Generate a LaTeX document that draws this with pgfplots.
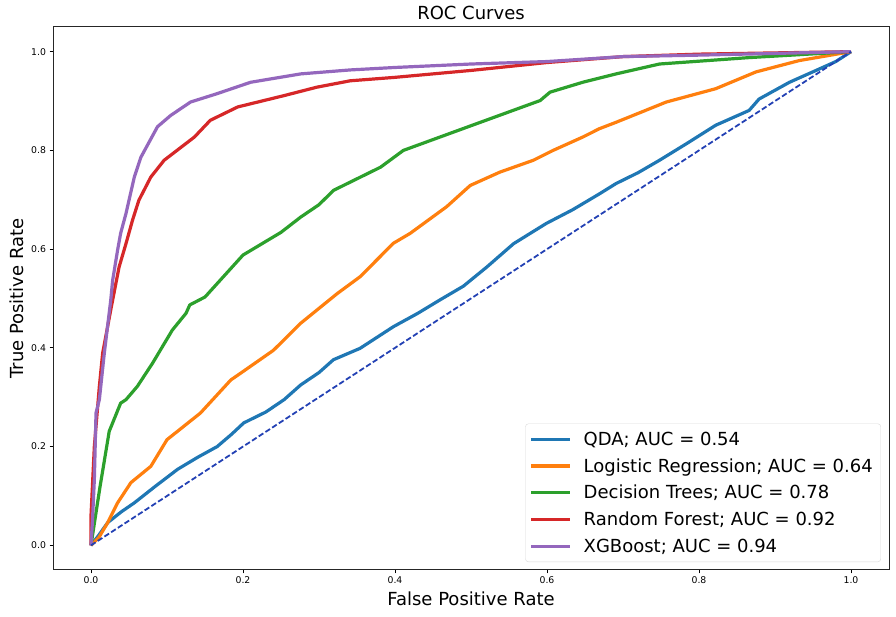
\documentclass[border=0pt]{standalone}
\usepackage{pgfplots}
\pgfplotsset{compat=1.18}
\usepackage{fontspec}
\setmainfont{DejaVu Sans}
\definecolor{tblue}{HTML}{1F77B4}
\definecolor{torange}{HTML}{FF7F0E}
\definecolor{tgreen}{HTML}{2CA02C}
\definecolor{tred}{HTML}{D62728}
\definecolor{tpurple}{HTML}{9467BD}
\definecolor{diagblue}{RGB}{35,65,180}
\begin{document}
\begin{tikzpicture}
\begin{axis}[
  name=ax,
  scale only axis,
  width=836pt, height=543pt,
  xmin=-0.05, xmax=1.05, ymin=-0.05, ymax=1.05,
  xtick={0,0.2,0.4,0.6,0.8,1.0},
  ytick={0,0.2,0.4,0.6,0.8,1.0},
  xticklabel style={/pgf/number format/.cd,fixed,fixed zerofill,precision=1},
  yticklabel style={/pgf/number format/.cd,fixed,fixed zerofill,precision=1},
  /pgf/number format/assume math mode=true,
  ticklabel style={font=\fontsize{9.3}{11}\selectfont},
  tick align=outside, tick pos=left,
  major tick length=3.5pt,
  every tick/.style={black, line width=0.8pt},
  axis line style={line width=1pt, black!85},
  title={ROC Curves},
  title style={at={(axis description cs:0.5,1.0129)}, anchor=base, yshift=-6pt, font=\fontsize{18}{21}\selectfont},
  xlabel={False Positive Rate},
  xlabel style={at={(axis description cs:0.5,-0.0663)}, anchor=base, font=\fontsize{18}{21}\selectfont},
  ylabel={True Positive Rate},
  ylabel style={at={(axis description cs:-0.0347,0.5)}, anchor=base, rotate=0, font=\fontsize{18}{21}\selectfont},
  legend style={at={(0.9904,0.0147)}, anchor=south east, draw=black!15, rounded corners=3pt,
    font=\fontsize{18}{21}\selectfont, inner xsep=4pt, inner ysep=6pt, row sep=7.7pt,
    /tikz/every odd column/.append style={column sep=8pt},
    nodes={inner xsep=4pt}},
  legend cell align=left,
  legend image code/.code={\draw[#1] (0pt,0pt) -- (39pt,0pt);},
]
\addplot[tblue, line width=3.2pt, line join=round] coordinates {
(0,0) (0.01,0.02) (0.022,0.046) (0.04,0.068) (0.057,0.086) (0.085,0.12) (0.114,0.154) (0.14,0.178) (0.166,0.2)
(0.185,0.225) (0.201,0.248) (0.23,0.27) (0.254,0.295) (0.276,0.325) (0.3,0.35) (0.319,0.376) (0.354,0.399)
(0.398,0.443) (0.43,0.47) (0.459,0.497) (0.49,0.525) (0.521,0.564) (0.556,0.611) (0.599,0.652) (0.634,0.68)
(0.669,0.712) (0.691,0.733) (0.72,0.755) (0.748,0.78) (0.785,0.815) (0.822,0.851) (0.866,0.881) (0.879,0.904)
(0.919,0.938) (0.954,0.962) (0.98,0.98) (1,1)};
\addlegendentry{QDA; AUC = 0.54}
\addplot[torange, line width=3.2pt, line join=round] coordinates {
(0,0) (0.01,0.015) (0.022,0.046) (0.035,0.086) (0.0525,0.127) (0.0787,0.16) (0.1,0.214) (0.122,0.241)
(0.144,0.268) (0.184,0.335) (0.2,0.352) (0.24,0.395) (0.276,0.45) (0.3,0.48) (0.324,0.51) (0.354,0.544)
(0.398,0.612) (0.42,0.632) (0.468,0.686) (0.499,0.729) (0.538,0.756) (0.582,0.78) (0.608,0.8) (0.647,0.827)
(0.669,0.844) (0.691,0.857) (0.757,0.898) (0.822,0.925) (0.875,0.959) (0.932,0.982) (1,1)};
\addlegendentry{Logistic Regression; AUC = 0.64}
\addplot[tgreen, line width=3.2pt, line join=round] coordinates {
(0,0) (0.012,0.12) (0.024,0.231) (0.039,0.288) (0.046,0.295) (0.061,0.322) (0.081,0.369) (0.107,0.436)
(0.125,0.47) (0.13,0.487) (0.15,0.503) (0.2,0.588) (0.25,0.634) (0.276,0.665) (0.3,0.69) (0.319,0.719)
(0.381,0.766) (0.411,0.8) (0.5,0.85) (0.591,0.901) (0.604,0.918) (0.647,0.938) (0.691,0.955) (0.748,0.975)
(0.866,0.988) (1,1)};
\addlegendentry{Decision Trees; AUC = 0.78}
\addplot[tred, line width=3.2pt, line join=round] coordinates {
(0,0) (0,0.06) (0.0044,0.2) (0.011,0.322) (0.0153,0.389) (0.026,0.477) (0.0328,0.531) (0.037,0.564)
(0.046,0.611) (0.0547,0.659) (0.063,0.699) (0.0787,0.746) (0.0962,0.78) (0.136,0.827) (0.157,0.861)
(0.193,0.888) (0.254,0.911) (0.297,0.928) (0.341,0.941) (0.4,0.948) (0.5,0.962) (0.6,0.978) (0.7,0.99)
(0.8,0.995) (1,1)};
\addlegendentry{Random Forest; AUC = 0.92}
\addplot[tpurple, line width=3.2pt, line join=round] coordinates {
(0,0) (0.002,0.052) (0.0044,0.133) (0.0066,0.268) (0.011,0.295) (0.0175,0.389) (0.026,0.497) (0.0285,0.537)
(0.035,0.598) (0.039,0.632) (0.046,0.672) (0.05,0.699) (0.057,0.746) (0.0656,0.786) (0.0875,0.848)
(0.105,0.871) (0.131,0.898) (0.166,0.915) (0.21,0.938) (0.276,0.955) (0.341,0.963) (0.4,0.968) (0.5,0.975)
(0.6,0.98) (0.7,0.99) (0.8,0.993) (1,1)};
\addlegendentry{XGBoost; AUC = 0.94}
\addplot[diagblue, line width=1.8pt, dash pattern=on 5.5pt off 2.5pt, forget plot] coordinates {(0,0) (1,1)};
\end{axis}
\pgfresetboundingbox
\path[use as bounding box] ([shift={(-53pt,-47pt)}]ax.south west) rectangle ([shift={(7pt,27pt)}]ax.north east);
\end{tikzpicture}
\end{document}
